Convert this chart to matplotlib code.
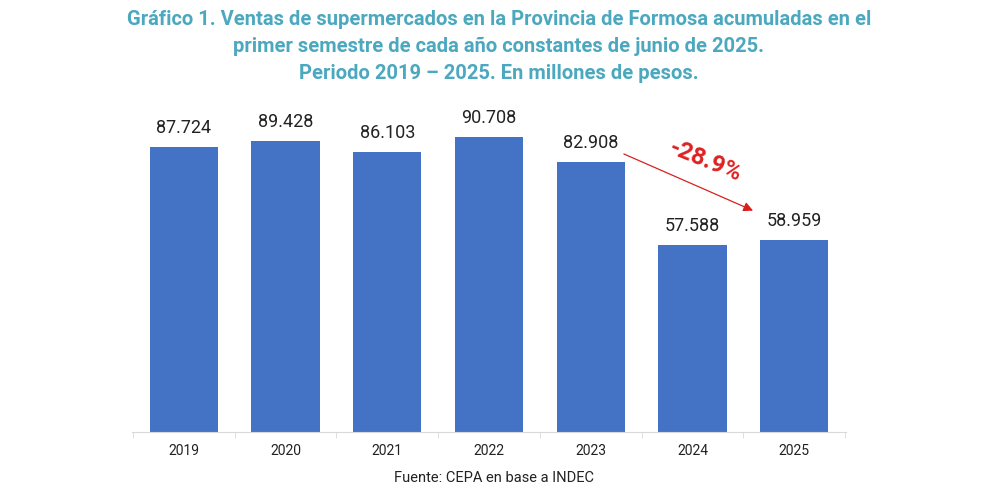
import numpy as np
import matplotlib
matplotlib.use('Agg')
import matplotlib.pyplot as plt

# datos
years = ['2019', '2020', '2021', '2022', '2023', '2024', '2025']
ventas = [87.724, 89.428, 86.103, 90.708, 82.908, 57.588, 58.959]
etiquetas = ['87.724', '89.428', '86.103', '90.708', '82.908', '57.588', '58.959']
variacion = '-28.9%'

titulo = ('Gráfico 1. Ventas de supermercados en la Provincia de Formosa acumuladas en el\n'
          'primer semestre de cada año constantes de junio de 2025.\n'
          'Periodo 2019 – 2025. En millones de pesos.')
fuente = 'Fuente: CEPA en base a INDEC'

plt.rcParams['font.family'] = ['Roboto', 'DejaVu Sans']

fig = plt.figure(figsize=(9.92, 4.88), dpi=100)
ax = fig.add_axes([0.133, 0.1148, 0.72, 0.680])

x = np.arange(len(years))
ax.bar(x, ventas, width=0.67, color='#4472C4')
for i in range(len(years)):
    ax.text(x[i], ventas[i] + 3.0, etiquetas[i], ha='center', va='bottom',
            fontsize=13, color='#222222')

ax.set_xlim(-0.51, len(years) - 0.49)
ax.set_ylim(0, 102)
ax.set_yticks([])
for s in ['top', 'right', 'left']:
    ax.spines[s].set_visible(False)
ax.spines['bottom'].set_color('#d9d9d9')
ax.set_xticks(x)
ax.set_xticklabels(years, fontsize=10, color='#222222')
ax.tick_params(axis='x', length=0, pad=9)
ax.set_xticks(np.arange(-0.5, len(years), 1), minor=True)
ax.tick_params(axis='x', which='minor', length=4, color='#d9d9d9')

# flecha de variacion
ax.annotate('', xy=(5.62, 67.7), xytext=(4.30, 85.8),
            arrowprops=dict(arrowstyle='-|>', color='#d92020', lw=0.9,
                            mutation_scale=14))
ax.text(5.13, 83.3, variacion, color='#e02020', fontsize=17.5, fontweight='bold',
        rotation=-22, ha='center', va='center')

fig.text(0.503, 0.98, titulo, ha='center', va='top', fontsize=14.5,
         fontweight='bold', color='#4BA8BF', linespacing=1.55)
fig.text(0.498, 0.006, fuente, ha='center', va='bottom', fontsize=10.5,
         color='#222222')

fig.savefig('out.png', dpi=100)
